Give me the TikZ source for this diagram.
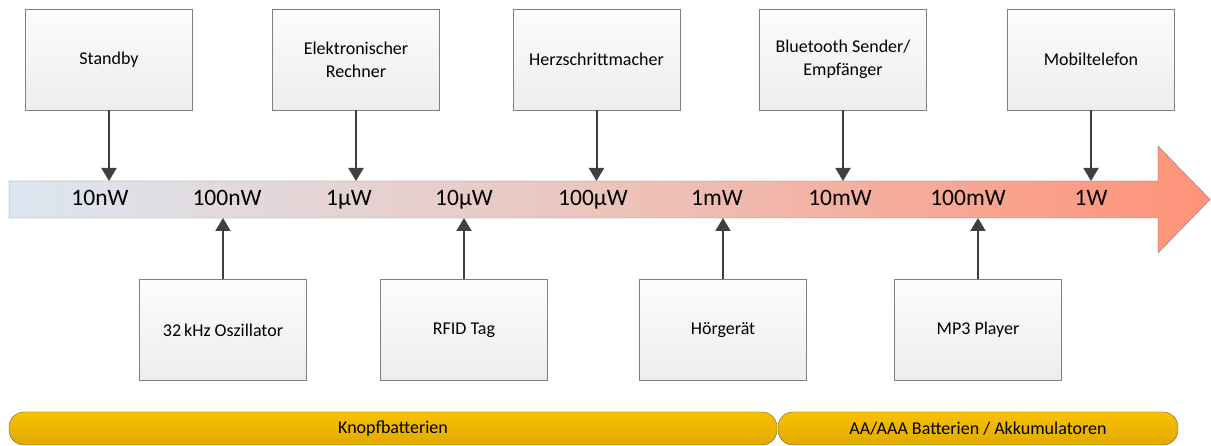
\documentclass[tikz,border=0pt]{standalone}
\usepackage{fontspec}
\setmainfont{Carlito}
\usetikzlibrary{arrows.meta}
\definecolor{boxline}{RGB}{128,128,128}
\definecolor{boxtop}{RGB}{252,252,252}
\definecolor{boxbot}{RGB}{237,237,237}
\definecolor{arrowgray}{RGB}{64,64,64}
\definecolor{scaleleft}{RGB}{220,230,241}
\definecolor{scalemid}{RGB}{236,196,188}
\definecolor{scaleright}{RGB}{255,146,120}
\definecolor{goldtop}{RGB}{248,194,0}
\definecolor{goldbot}{RGB}{225,168,0}
\definecolor{battline}{RGB}{110,100,70}
\tikzset{
  device/.style={rectangle, draw=boxline, top color=boxtop, bottom color=boxbot,
    minimum width=167pt, minimum height=101pt, align=center, inner sep=0pt,
    font=\fontsize{18}{23}\selectfont},
  level/.style={inner sep=0pt, anchor=base, font=\fontsize{23.5}{26}\selectfont},
  ptr/.style={-{Triangle[length=13pt,width=15pt]}, line width=2pt, draw=arrowgray},
  battery/.style={rectangle, draw=battline, top color=goldtop, bottom color=goldbot,
    rounded corners=15pt, minimum height=33pt, inner sep=0pt,
    font=\fontsize{18}{20}\selectfont},
}
\begin{document}
\begin{tikzpicture}[x=1pt,y=-1pt]
  \useasboundingbox (0,0) rectangle (1211,446);
  % power scale
  \shade[draw=boxline, left color=scaleleft, right color=scaleright, middle color=scalemid]
    (9,181) -- (1158,181) -- (1158,146) -- (1210,199.5) -- (1158,253) -- (1158,218) -- (9,218) -- cycle;
  \coordinate (scaletop) at (0,181);
  \coordinate (scalebot) at (0,218);
  \node[level] (p10n) at (100,206) {10nW};
  \node[level] (p100n) at (227,206) {100nW};
  \node[level] (p1u) at (349,206) {1µW};
  \node[level] (p10u) at (464,206) {10µW};
  \node[level] (p100u) at (593,206) {100µW};
  \node[level] (p1m) at (717,206) {1mW};
  \node[level] (p10m) at (840,206) {10mW};
  \node[level] (p100m) at (968,206) {100mW};
  \node[level] (p1) at (1091,206) {1W};
  % devices above
  \node[device] (standby) at (109,59.5) {Standby};
  \node[device] (rechner) at (356,59.5) {Elektronischer\\Rechner};
  \node[device] (herz) at (596.5,59.5) {Herzschrittmacher};
  \node[device] (bluetooth) at (843,59.5) {Bluetooth Sender/\\Empfänger};
  \node[device] (mobil) at (1091,59.5) {Mobiltelefon};
  % devices below
  \node[device] (osz) at (223,330) {32\,kHz Oszillator};
  \node[device] (rfid) at (464,330) {RFID Tag};
  \node[device] (hoer) at (723,330) {Hörgerät};
  \node[device] (mp3) at (978,330) {MP3 Player};
  % pointers
  \draw[ptr] (standby) -- (standby |- scaletop);
  \draw[ptr] (rechner) -- (rechner |- scaletop);
  \draw[ptr] (herz) -- (herz |- scaletop);
  \draw[ptr] (bluetooth) -- (bluetooth |- scaletop);
  \draw[ptr] (mobil) -- (mobil |- scaletop);
  \draw[ptr] (osz) -- (osz |- scalebot);
  \draw[ptr] (rfid) -- (rfid |- scalebot);
  \draw[ptr] (hoer) -- (hoer |- scalebot);
  \draw[ptr] (mp3) -- (mp3 |- scalebot);
  % batteries
  \node[battery, minimum width=768pt] (knopf) at (393,428.5) {Knopfbatterien};
  \node[battery, minimum width=400pt] (aa) at (978,428.5) {AA/AAA Batterien / Akkumulatoren};
\end{tikzpicture}
\end{document}
